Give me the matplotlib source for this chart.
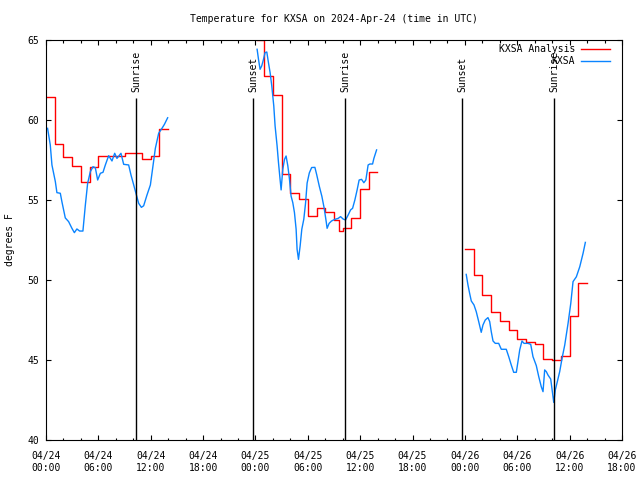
import numpy as np
import pandas as pd
import matplotlib
matplotlib.use("Agg")
import matplotlib.pyplot as plt
import matplotlib.dates as mdates

START = pd.Timestamp("2024-04-24 00:00")

# hourly analysis (hours after 04/24 00:00 UTC, deg F)
ana_hours = [0.1, 1, 2, 3, 4, 5, 6, 7, 8, 9, 10, 11, 12, 13,
             24.2, 25, 26, 27, 28, 29, 30, 31, 32, 33, 33.6, 34, 35, 36, 37,
             48, 49, 50, 51, 52, 53, 54, 55, 56, 57, 58, 59, 60, 61]
ana_temp = [61.42, 58.48, 57.71, 57.13, 56.10, 57.08, 57.75, 57.75, 57.75, 57.92, 57.92, 57.56, 57.75, 59.42,
            65.00, 62.75, 61.54, 56.64, 55.46, 55.04, 54.00, 54.50, 54.27, 53.75, 53.08, 53.23, 53.85, 55.67, 56.73,
            51.92, 50.31, 49.06, 47.98, 47.44, 46.88, 46.29, 46.15, 46.02, 45.06, 45.00, 45.25, 47.75, 49.79]

# station observations
obs_hours = [0.18, 0.49, 0.68, 1.07, 1.25, 1.64, 1.82, 2.21, 2.59, 2.97, 3.25, 3.54, 3.85, 4.23,
             4.51, 4.77, 5.08, 5.38, 5.65, 5.92, 6.23, 6.53, 6.80, 7.18, 7.56, 7.87, 8.13, 8.59,
             8.90, 9.47, 9.74, 10.05, 10.36, 10.62, 10.93, 11.19, 11.57, 11.96, 12.22, 12.53,
             12.91, 13.29, 13.57, 13.94,
             24.19, 24.35, 24.53, 24.72, 24.92, 25.10, 25.30, 25.49, 25.68, 25.87, 26.10, 26.25,
             26.48, 26.64, 26.82, 26.94, 27.13, 27.33, 27.51, 27.71, 27.90, 28.08, 28.28, 28.47,
             28.66, 28.77, 28.93, 29.12, 29.31, 29.54, 29.74, 29.92, 30.17, 30.44, 30.81, 31.01,
             31.32, 31.61, 31.87, 32.12, 32.21, 32.44, 32.72, 33.10, 33.47, 33.75, 34.05, 34.32,
             34.62, 34.90, 35.13, 35.39, 35.65, 35.88, 36.16, 36.42, 36.65, 36.91, 37.11, 37.42,
             37.57, 37.88,
             48.15, 48.35, 48.54, 48.73, 49.04, 49.30, 49.58, 49.87, 50.07, 50.33, 50.64, 50.84,
             51.02, 51.22, 51.48, 51.87, 52.17, 52.74, 53.02, 53.31, 53.59, 53.89, 54.08, 54.28,
             54.54, 54.77, 55.23, 55.54, 55.80, 56.18, 56.46, 56.75, 56.95, 57.14, 57.33, 57.52,
             57.83, 58.02, 58.18, 58.36, 58.59, 58.86, 59.13, 59.44, 59.82, 60.13, 60.39, 60.77,
             61.16, 61.54, 61.80]
obs_temp = [59.48, 58.44, 57.19, 56.15, 55.46, 55.42, 54.90, 53.88, 53.65, 53.23, 52.96, 53.19, 53.06, 53.06,
            54.69, 56.04, 56.77, 57.08, 57.02, 56.25, 56.67, 56.73, 57.19, 57.77, 57.44, 57.92, 57.60, 57.92,
            57.23, 57.19, 56.56, 55.94, 55.31, 54.79, 54.54, 54.64, 55.31, 55.94, 56.98, 58.23,
            59.17, 59.48, 59.73, 60.14,
            64.42, 63.79, 63.17, 63.38, 63.79, 64.21, 64.25, 63.58, 62.96, 62.13, 60.88, 59.63,
            58.38, 57.33, 56.29, 55.63, 56.92, 57.54, 57.75, 57.13, 56.29, 55.25, 54.83, 54.21,
            53.17, 51.92, 51.29, 52.13, 53.17, 53.80, 54.80, 56.06, 56.69, 57.03, 57.04, 56.60,
            55.85, 55.23, 54.50, 53.60, 53.23, 53.54, 53.69, 53.79, 53.85, 53.96, 53.81, 53.75,
            54.06, 54.38, 54.48, 55.00, 55.63, 56.25, 56.29, 56.08, 56.25, 57.19, 57.25, 57.25,
            57.60, 58.13,
            50.35, 49.69, 49.17, 48.69, 48.44, 48.02, 47.40, 46.73, 47.19, 47.50, 47.65, 47.40,
            46.77, 46.19, 46.04, 46.04, 45.67, 45.67, 45.21, 44.69, 44.23, 44.23, 44.90, 45.63,
            46.19, 46.04, 46.04, 45.98, 45.21, 44.65, 43.96, 43.33, 43.02, 44.38, 44.27, 44.06,
            43.81, 43.02, 42.35, 43.13, 43.65, 44.27, 45.10, 45.94, 47.29, 48.54, 49.90, 50.20,
            50.83, 51.67, 52.35]

sun_hours = [10.31, 23.73, 34.28, 47.69, 58.24]
sun_labels = ["Sunrise", "Sunset", "Sunrise", "Sunset", "Sunrise"]


def to_time(hours):
    return START + pd.to_timedelta(np.asarray(hours, dtype=float), unit="h")


def split_runs(hours, temps, gap=3.0):
    h = np.asarray(hours, dtype=float)
    v = np.asarray(temps, dtype=float)
    cut = np.where(np.diff(h) > gap)[0] + 1
    return list(zip(np.split(h, cut), np.split(v, cut)))


plt.rcParams["font.family"] = ["DejaVu Sans Mono"]
plt.rcParams["font.size"] = 7

fig = plt.figure(figsize=(6.4, 4.8), dpi=100)
ax = fig.add_axes([46 / 640, 40 / 480, 576 / 640, 400 / 480])

for i, (h, v) in enumerate(split_runs(ana_hours, ana_temp)):
    h = np.append(h, h[-1] + 0.95)
    v = np.append(v, v[-1])
    ax.plot(to_time(h), v, color="#ff0000", lw=1.0, drawstyle="steps-post",
            label="KXSA Analysis" if i == 0 else None)

for i, (h, v) in enumerate(split_runs(obs_hours, obs_temp)):
    ax.plot(to_time(h), v, color="#0a84ff", lw=1.0,
            label="KXSA" if i == 0 else None)

for h, name in zip(sun_hours, sun_labels):
    t = to_time([h])[0]
    ax.vlines(t, 40, 61.35, color="black", lw=1.0)
    ax.text(t, 61.75, name, rotation=90, ha="center", va="bottom")

ax.set_xlim(to_time([0])[0], to_time([66])[0])
ax.set_ylim(40, 65)
ax.set_yticks([40, 45, 50, 55, 60, 65])

ax.xaxis.set_major_locator(mdates.HourLocator(byhour=range(0, 24, 6)))
ax.xaxis.set_minor_locator(mdates.HourLocator(byhour=range(0, 24, 2)))
ax.xaxis.set_major_formatter(mdates.DateFormatter("%m/%d\n%H:%M"))

ax.tick_params(which="both", direction="in", top=True, right=True, width=0.8)
ax.tick_params(which="major", length=3.5)
ax.tick_params(which="minor", length=1.8)
ax.tick_params(axis="x", which="major", pad=8)
ax.tick_params(axis="y", which="major", pad=5)
for s in ax.spines.values():
    s.set_linewidth(0.8)

fig.text(10 / 640, 0.5, "degrees F", rotation=90, ha="center", va="center")
fig.text(334 / 640, 1 - 19 / 480, "Temperature for KXSA on 2024-Apr-24 (time in UTC)",
         ha="center", va="center")

ax.legend(loc="upper right", bbox_to_anchor=(0.979, 0.99), frameon=False,
          markerfirst=False, handlelength=3.0, handletextpad=0.6,
          borderaxespad=0, borderpad=0, labelspacing=0.25)

fig.savefig("out.png", dpi=100)
